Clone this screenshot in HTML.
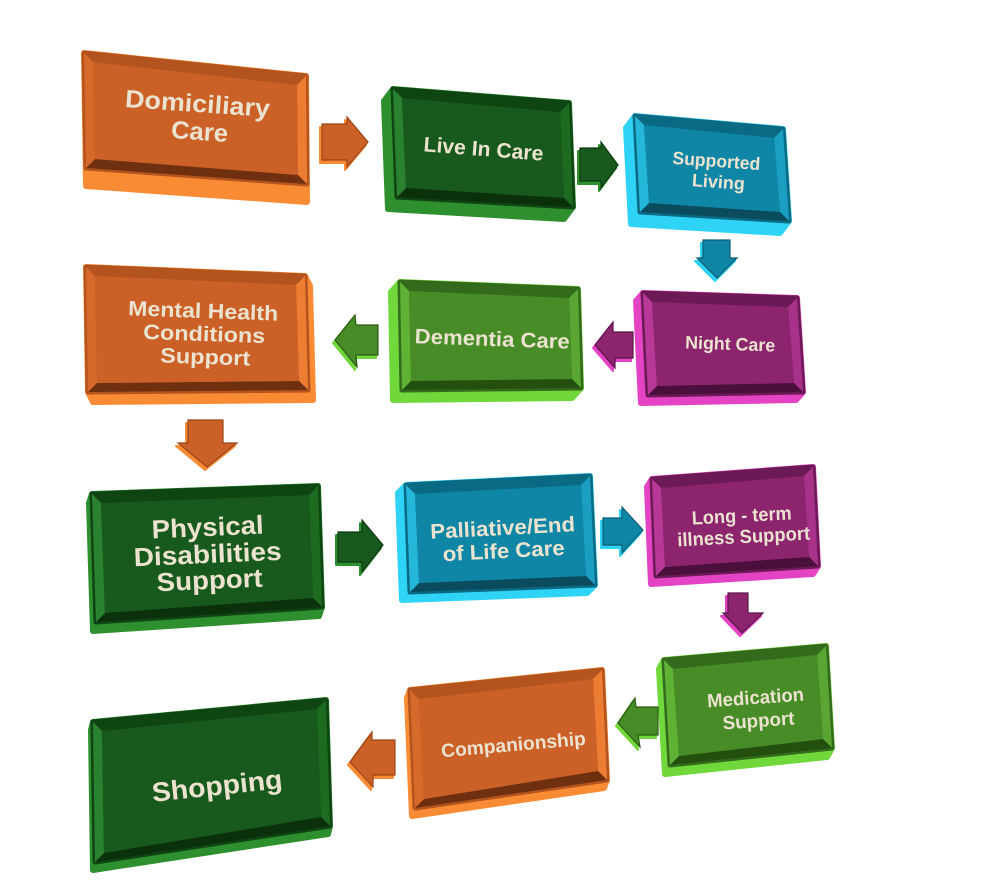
<!DOCTYPE html>
<html>
<head>
<meta charset="utf-8">
<style>
html,body{margin:0;padding:0;background:#fff;}
svg{display:block;}
text{font-family:"Liberation Sans",Arial,sans-serif;font-weight:bold;fill:#ebe3cf;text-anchor:middle;}
.or .ext{fill:#fa8b35;stroke:#fa8b35;} .or .q{fill:#b3531e;stroke:#b3531e;} .or .face{fill:#cc6128;}
.or .rt{fill:#b3531e;} .or .rr{fill:#ec7d33;} .or .rb{fill:#6e300e;} .or .rl{fill:#d7692b;}
.dg .ext{fill:#2d8f2e;stroke:#2d8f2e;} .dg .q{fill:#0f4413;stroke:#0f4413;} .dg .face{fill:#18591d;}
.dg .rt{fill:#0f4413;} .dg .rr{fill:#1d6a21;} .dg .rb{fill:#0a300c;} .dg .rl{fill:#2a8230;}
.bl .ext{fill:#2fd3f5;stroke:#2fd3f5;} .bl .q{fill:#0b6a83;stroke:#0b6a83;} .bl .face{fill:#0f86a5;}
.bl .rt{fill:#0b6a83;} .bl .rr{fill:#1a9fc2;} .bl .rb{fill:#0a4c5e;} .bl .rl{fill:#25b7da;}
.mg .ext{fill:#e443c4;stroke:#e443c4;} .mg .q{fill:#6c1a55;stroke:#6c1a55;} .mg .face{fill:#8c246e;}
.mg .rt{fill:#6c1a55;} .mg .rr{fill:#a8318a;} .mg .rb{fill:#4a0f3a;} .mg .rl{fill:#b83898;}
.lg .ext{fill:#70d83a;stroke:#70d83a;} .lg .q{fill:#336a1c;stroke:#336a1c;} .lg .face{fill:#478c27;}
.lg .rt{fill:#336a1c;} .lg .rr{fill:#5aa632;} .lg .rb{fill:#23500f;} .lg .rl{fill:#5fb234;}
.ext{stroke-width:6;stroke-linejoin:round;}
.q{stroke-width:5;stroke-linejoin:round;}
.ar .sh{stroke-width:2;stroke-linejoin:round;}
.or .sh{fill:#fa8b35;stroke:#fa8b35;} .or .ab{fill:#cc6128;stroke:#9a4418;stroke-width:1.2;}
.dg .sh{fill:#2d8f2e;stroke:#2d8f2e;} .dg .ab{fill:#18591d;stroke:#0d3a10;stroke-width:1.2;}
.bl .sh{fill:#2fd3f5;stroke:#2fd3f5;} .bl .ab{fill:#0f86a5;stroke:#0a5d72;stroke-width:1.2;}
.mg .sh{fill:#e443c4;stroke:#e443c4;} .mg .ab{fill:#8c246e;stroke:#5c1449;stroke-width:1.2;}
.lg .sh{fill:#70d83a;stroke:#70d83a;} .lg .ab{fill:#478c27;stroke:#2c5a16;stroke-width:1.2;}
</style>
</head>
<body>
<svg width="1000" height="882" viewBox="0 0 1000 882" xmlns="http://www.w3.org/2000/svg">
<rect width="1000" height="882" fill="#fff"/>

<!-- Box 1 Domiciliary -->
<g class="or">
<polygon class="ext" points="84,53 306,76 307,202 86,186"/>
<polygon class="q" points="84,53 306,76 307,184 86,168"/>
<polygon class="rt" points="84,53 306,76 297,85 93,62"/>
<polygon class="rr" points="306,76 307,184 298,175 297,85"/>
<polygon class="rb" points="307,184 86,168 95,159 298,175"/>
<polygon class="rl" points="86,168 84,53 93,62 95,159"/>
<polygon class="face" points="93,62 297,85 298,175 95,159"/>
<text font-size="25" x="197" y="112" textLength="145" lengthAdjust="spacingAndGlyphs" transform="rotate(4 197 112)">Domiciliary</text>
<text font-size="25" x="199" y="140" textLength="57" lengthAdjust="spacingAndGlyphs" transform="rotate(4 199 140)">Care</text>
</g>

<!-- Box 2 Live In Care -->
<g class="dg">
<polygon class="ext" points="393,89 569,103 573,207 564,219 388,209 384,101"/>
<polygon class="q" points="393,89 569,103 573,207 397,197"/>
<polygon class="rt" points="393,89 569,103 560,112 402,98"/>
<polygon class="rr" points="569,103 573,207 564,198 560,112"/>
<polygon class="rb" points="573,207 397,197 406,188 564,198"/>
<polygon class="rl" points="397,197 393,89 402,98 406,188"/>
<polygon class="face" points="402,98 560,112 564,198 406,188"/>
<text font-size="21" x="483" y="156" textLength="120" lengthAdjust="spacingAndGlyphs" transform="rotate(4.5 483 156)">Live In Care</text>
</g>

<!-- Box 3 Supported Living -->
<g class="bl">
<polygon class="ext" points="635,116 783,129 789,221 780,233 631,224 626,128"/>
<polygon class="q" points="635,116 783,129 789,221 640,212"/>
<polygon class="rt" points="635,116 783,129 774,138 644,125"/>
<polygon class="rr" points="783,129 789,221 780,212 774,138"/>
<polygon class="rb" points="789,221 640,212 649,203 780,212"/>
<polygon class="rl" points="640,212 635,116 644,125 649,203"/>
<polygon class="face" points="644,125 774,138 780,212 649,203"/>
<text font-size="18" x="716" y="167" textLength="88" lengthAdjust="spacingAndGlyphs" transform="rotate(4 716 167)">Supported</text>
<text font-size="18" x="718" y="188" textLength="53" lengthAdjust="spacingAndGlyphs" transform="rotate(4 718 188)">Living</text>
</g>

<!-- Box 4 Mental Health -->
<g class="or">
<polygon class="ext" points="86,267 305,276 310,286 313,400 93,402 88,392"/>
<polygon class="q" points="86,267 305,276 308,390 88,392"/>
<polygon class="rt" points="86,267 305,276 296,285 95,276"/>
<polygon class="rr" points="305,276 308,390 299,381 296,285"/>
<polygon class="rb" points="308,390 88,392 97,383 299,381"/>
<polygon class="rl" points="88,392 86,267 95,276 97,383"/>
<polygon class="face" points="95,276 296,285 299,381 97,383"/>
<text font-size="21" x="203" y="318" textLength="150" lengthAdjust="spacingAndGlyphs" transform="rotate(2 203 318)">Mental Health</text>
<text font-size="21" x="204" y="341" textLength="122" lengthAdjust="spacingAndGlyphs" transform="rotate(2 204 341)">Conditions</text>
<text font-size="21" x="205" y="364" textLength="90" lengthAdjust="spacingAndGlyphs" transform="rotate(2 205 364)">Support</text>
</g>

<!-- Box 5 Dementia Care -->
<g class="lg">
<polygon class="ext" points="400,282 578,289 581,388 572,398 393,400 391,292"/>
<polygon class="q" points="400,282 578,289 581,388 402,390"/>
<polygon class="rt" points="400,282 578,289 569,298 409,291"/>
<polygon class="rr" points="578,289 581,388 572,379 569,298"/>
<polygon class="rb" points="581,388 402,390 411,381 572,379"/>
<polygon class="rl" points="402,390 400,282 409,291 411,381"/>
<polygon class="face" points="409,291 569,298 572,379 411,381"/>
<text font-size="21" x="492" y="346" textLength="155" lengthAdjust="spacingAndGlyphs" transform="rotate(2 492 346)">Dementia Care</text>
</g>

<!-- Box 6 Night Care -->
<g class="mg">
<polygon class="ext" points="643,293 797,298 803,392 796,400 641,403 636,301"/>
<polygon class="q" points="643,293 797,298 803,392 648,395"/>
<polygon class="rt" points="643,293 797,298 788,307 652,302"/>
<polygon class="rr" points="797,298 803,392 794,383 788,307"/>
<polygon class="rb" points="803,392 648,395 657,386 794,383"/>
<polygon class="rl" points="648,395 643,293 652,302 657,386"/>
<polygon class="face" points="652,302 788,307 794,383 657,386"/>
<text font-size="18" x="730" y="350" textLength="90" lengthAdjust="spacingAndGlyphs" transform="rotate(2 730 350)">Night Care</text>
</g>

<!-- Box 7 Physical Disabilities -->
<g class="dg">
<polygon class="ext" points="92,494 318,486 322,607 319,616 93,631 89,503"/>
<polygon class="q" points="92,494 318,486 322,607 96,622"/>
<polygon class="rt" points="92,494 318,486 309,495 101,503"/>
<polygon class="rr" points="318,486 322,607 313,598 309,495"/>
<polygon class="rb" points="322,607 96,622 105,613 313,598"/>
<polygon class="rl" points="96,622 92,494 101,503 105,613"/>
<polygon class="face" points="101,503 309,495 313,598 105,613"/>
<text font-size="26" x="208" y="536" textLength="112" lengthAdjust="spacingAndGlyphs" transform="rotate(-2.5 208 536)">Physical</text>
<text font-size="26" x="208" y="563" textLength="148" lengthAdjust="spacingAndGlyphs" transform="rotate(-2.5 208 563)">Disabilities</text>
<text font-size="26" x="210" y="589" textLength="106" lengthAdjust="spacingAndGlyphs" transform="rotate(-2.5 210 589)">Support</text>
</g>

<!-- Box 8 Palliative -->
<g class="bl">
<polygon class="ext" points="406,485 590,476 595,585 587,593 402,600 398,493"/>
<polygon class="q" points="406,485 590,476 595,585 410,592"/>
<polygon class="rt" points="406,485 590,476 581,485 415,494"/>
<polygon class="rr" points="590,476 595,585 586,576 581,485"/>
<polygon class="rb" points="595,585 410,592 419,583 586,576"/>
<polygon class="rl" points="410,592 406,485 415,494 419,583"/>
<polygon class="face" points="415,494 581,485 586,576 419,583"/>
<text font-size="21" x="503" y="535" textLength="145" lengthAdjust="spacingAndGlyphs" transform="rotate(-3 503 535)">Palliative/End</text>
<text font-size="21" x="504" y="558" textLength="122" lengthAdjust="spacingAndGlyphs" transform="rotate(-3 504 558)">of Life Care</text>
</g>

<!-- Box 9 Long-term -->
<g class="mg">
<polygon class="ext" points="652,479 813,467 818,566 813,574 651,584 647,487"/>
<polygon class="q" points="652,479 813,467 818,566 656,576"/>
<polygon class="rt" points="652,479 813,467 804,476 661,488"/>
<polygon class="rr" points="813,467 818,566 809,557 804,476"/>
<polygon class="rb" points="818,566 656,576 665,567 809,557"/>
<polygon class="rl" points="656,576 652,479 661,488 665,567"/>
<polygon class="face" points="661,488 804,476 809,557 665,567"/>
<text font-size="19" x="742" y="522" textLength="100" lengthAdjust="spacingAndGlyphs" transform="rotate(-3 742 522)">Long - term</text>
<text font-size="19" x="744" y="543" textLength="133" lengthAdjust="spacingAndGlyphs" transform="rotate(-3 744 543)">illness Support</text>
</g>

<!-- Box 10 Medication -->
<g class="lg">
<polygon class="ext" points="664,660 826,646 832,748 827,757 665,774 659,669"/>
<polygon class="q" points="664,660 826,646 832,748 670,765"/>
<polygon class="rt" points="664,660 826,646 817,655 673,669"/>
<polygon class="rr" points="826,646 832,748 823,739 817,655"/>
<polygon class="rb" points="832,748 670,765 679,756 823,739"/>
<polygon class="rl" points="670,765 664,660 673,669 679,756"/>
<polygon class="face" points="673,669 817,655 823,739 679,756"/>
<text font-size="19" x="756" y="704" textLength="97" lengthAdjust="spacingAndGlyphs" transform="rotate(-4 756 704)">Medication</text>
<text font-size="19" x="759" y="727" textLength="72" lengthAdjust="spacingAndGlyphs" transform="rotate(-4 759 727)">Support</text>
</g>

<!-- Box 11 Companionship -->
<g class="or">
<polygon class="ext" points="410,690 602,670 607,780 604,788 412,816 407,698"/>
<polygon class="q" points="410,690 602,670 607,780 415,808"/>
<polygon class="rt" points="410,690 602,670 593,679 419,699"/>
<polygon class="rr" points="602,670 607,780 598,771 593,679"/>
<polygon class="rb" points="607,780 415,808 424,799 598,771"/>
<polygon class="rl" points="415,808 410,690 419,699 424,799"/>
<polygon class="face" points="419,699 593,679 598,771 424,799"/>
<text font-size="19" x="514" y="751" textLength="145" lengthAdjust="spacingAndGlyphs" transform="rotate(-5 514 751)">Companionship</text>
</g>

<!-- Box 12 Shopping -->
<g class="dg">
<polygon class="ext" points="93,722 326,700 330,826 328,834 93,870 91,730"/>
<polygon class="q" points="93,722 326,700 330,826 95,862"/>
<polygon class="rt" points="93,722 326,700 317,709 102,731"/>
<polygon class="rr" points="326,700 330,826 321,817 317,709"/>
<polygon class="rb" points="330,826 95,862 104,853 321,817"/>
<polygon class="rl" points="95,862 93,722 102,731 104,853"/>
<polygon class="face" points="102,731 317,709 321,817 104,853"/>
<text font-size="27" x="218" y="795" textLength="131" lengthAdjust="spacingAndGlyphs" transform="rotate(-6 218 795)">Shopping</text>
</g>

<!-- Arrows -->
<g class="ar or">
<polygon class="sh" transform="translate(-2,3)" points="322,124 347,124 347,117 368,142 347,167 347,160 322,160"/>
<polygon class="ab" points="322,124 347,124 347,117 368,142 347,167 347,160 322,160"/>
</g>
<g class="ar dg">
<polygon class="sh" transform="translate(-2,3)" points="580,148 601,148 601,142 618,165 601,188 601,181 580,181"/>
<polygon class="ab" points="580,148 601,148 601,142 618,165 601,188 601,181 580,181"/>
</g>
<g class="ar bl">
<polygon class="sh" transform="translate(-2,3)" points="703,240 730,240 730,258 737,258 717,278 697,258 703,258"/>
<polygon class="ab" points="703,240 730,240 730,258 737,258 717,278 697,258 703,258"/>
</g>
<g class="ar mg">
<polygon class="sh" transform="translate(-2,3)" points="633,332 613,332 613,322 595,345 615,368 615,358 633,358"/>
<polygon class="ab" points="633,332 613,332 613,322 595,345 615,368 615,358 633,358"/>
</g>
<g class="ar lg">
<polygon class="sh" transform="translate(-2,3)" points="378,325 356,325 355,315 335,340 357,367 356,355 378,355"/>
<polygon class="ab" points="378,325 356,325 355,315 335,340 357,367 356,355 378,355"/>
</g>
<g class="ar or">
<polygon class="sh" transform="translate(-2,3)" points="188,420 223,420 223,443 237,443 207,467 178,443 188,443"/>
<polygon class="ab" points="188,420 223,420 223,443 237,443 207,467 178,443 188,443"/>
</g>
<g class="ar dg">
<polygon class="sh" transform="translate(-2,3)" points="338,532 362,532 362,520 383,545 362,572 362,562 338,562"/>
<polygon class="ab" points="338,532 362,532 362,520 383,545 362,572 362,562 338,562"/>
</g>
<g class="ar bl">
<polygon class="sh" transform="translate(-2,3)" points="603,518 622,518 622,507 643,530 622,553 622,545 603,545"/>
<polygon class="ab" points="603,518 622,518 622,507 643,530 622,553 622,545 603,545"/>
</g>
<g class="ar mg">
<polygon class="sh" transform="translate(-2,3)" points="728,593 748,593 748,613 763,613 742,633 723,613 728,613"/>
<polygon class="ab" points="728,593 748,593 748,613 763,613 742,633 723,613 728,613"/>
</g>
<g class="ar lg">
<polygon class="sh" transform="translate(-2,3)" points="658,707 636,707 635,698 618,723 640,747 638,735 658,735"/>
<polygon class="ab" points="658,707 636,707 635,698 618,723 640,747 638,735 658,735"/>
</g>
<g class="ar or">
<polygon class="sh" transform="translate(-2,3)" points="395,740 372,740 372,732 350,762 373,787 373,775 395,775"/>
<polygon class="ab" points="395,740 372,740 372,732 350,762 373,787 373,775 395,775"/>
</g>
</svg>
</body>
</html>
